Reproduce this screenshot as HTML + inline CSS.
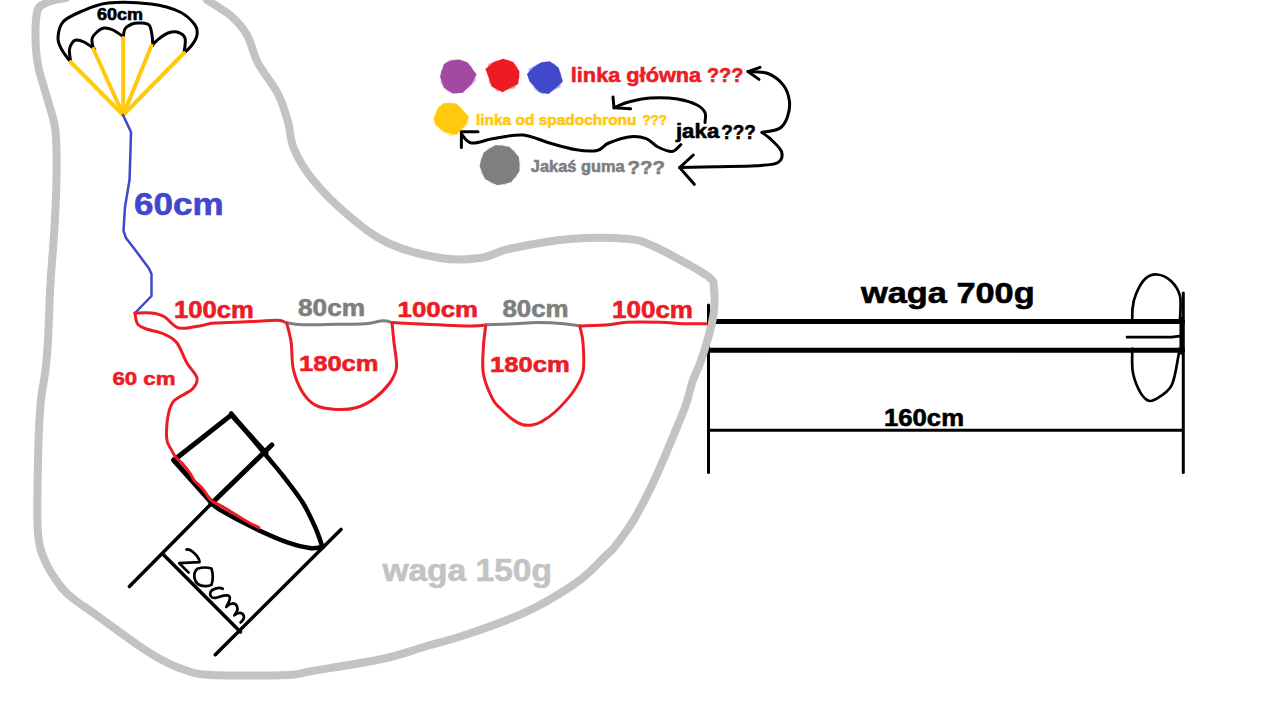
<!DOCTYPE html>
<html><head><meta charset="utf-8"><style>
html,body{margin:0;padding:0;background:#fff;width:1267px;height:714px;overflow:hidden}
svg{display:block}
text{font-family:"Liberation Sans",sans-serif;font-weight:bold}
</style></head><body>
<svg width="1267" height="714" viewBox="0 0 1267 714">
<rect width="1267" height="714" fill="#fff"/>
<path d="M70.7,62.0 C69.2,60.0 64.1,54.0 62.0,50.0 C59.9,46.0 57.8,42.7 58.0,38.0 C58.2,33.3 59.3,26.3 63.0,22.0 C66.7,17.7 72.5,15.2 80.0,12.0 C87.5,8.8 96.2,4.3 108.0,3.0 C119.8,1.7 139.0,2.5 151.0,4.0 C163.0,5.5 172.7,8.5 180.0,12.0 C187.3,15.5 192.2,21.2 195.0,25.0 C197.8,28.8 197.5,31.7 197.0,35.0 C196.5,38.3 194.2,42.0 192.0,45.0 C189.8,48.0 185.3,51.7 184.0,53.0" stroke="#000000" stroke-width="3" fill="none" stroke-linecap="round" stroke-linejoin="round" />
<path d="M70.7,62.0 C70.5,60.0 69.2,53.2 69.4,50.0 C69.6,46.8 70.9,44.7 72.0,43.0 C73.1,41.3 74.0,40.2 76.0,40.0 C78.0,39.8 80.9,40.5 84.0,42.0 C87.1,43.5 92.9,47.8 94.7,49.0" stroke="#000000" stroke-width="3" fill="none" stroke-linecap="round" stroke-linejoin="round" />
<path d="M93.4,49.0 C93.2,47.3 91.4,41.8 92.0,39.0 C92.6,36.2 95.0,33.8 97.0,32.0 C99.0,30.2 101.3,28.3 104.0,28.0 C106.7,27.7 109.7,28.5 113.0,30.0 C116.3,31.5 121.9,35.8 123.7,37.0" stroke="#000000" stroke-width="3" fill="none" stroke-linecap="round" stroke-linejoin="round" />
<path d="M123.2,38.0 C123.5,36.5 123.5,31.3 125.0,29.0 C126.5,26.7 129.5,25.0 132.0,24.0 C134.5,23.0 137.2,22.8 140.0,23.0 C142.8,23.2 147.0,23.0 149.0,25.0 C151.0,27.0 151.4,31.6 152.0,35.0 C152.6,38.4 152.7,43.8 152.8,45.5" stroke="#000000" stroke-width="3" fill="none" stroke-linecap="round" stroke-linejoin="round" />
<path d="M151.5,45.5 C152.9,44.2 157.2,40.1 160.0,38.0 C162.8,35.9 165.2,34.0 168.0,33.0 C170.8,32.0 174.2,31.2 177.0,32.0 C179.8,32.8 183.8,34.5 185.0,38.0 C186.2,41.5 184.2,50.5 184.0,53.0" stroke="#000000" stroke-width="3" fill="none" stroke-linecap="round" stroke-linejoin="round" />
<path d="M123.2,115.0 L70.7,62.0" stroke="#ffc90e" stroke-width="4" fill="none" stroke-linecap="round" stroke-linejoin="round" stroke-linecap="butt"/>
<path d="M123.2,115.0 L93.4,49.0" stroke="#ffc90e" stroke-width="4" fill="none" stroke-linecap="round" stroke-linejoin="round" stroke-linecap="butt"/>
<path d="M123.2,115.0 L123.2,37.9" stroke="#ffc90e" stroke-width="4" fill="none" stroke-linecap="round" stroke-linejoin="round" stroke-linecap="butt"/>
<path d="M123.2,115.0 L151.5,45.5" stroke="#ffc90e" stroke-width="4" fill="none" stroke-linecap="round" stroke-linejoin="round" stroke-linecap="butt"/>
<path d="M123.2,115.0 L184.0,53.0" stroke="#ffc90e" stroke-width="4" fill="none" stroke-linecap="round" stroke-linejoin="round" stroke-linecap="butt"/>
<path d="M123.0,115.0 L131.0,132.0 L130.5,150.0 L129.5,180.0 L125.0,207.0 L123.5,231.0 L126.0,238.0 L136.0,251.0 L149.0,268.6 L151.5,274.0 L151.5,296.0 L135.0,313.0" stroke="#3f48cc" stroke-width="2.5" fill="none" stroke-linecap="round" stroke-linejoin="round" />
<path d="M135.0,313.0 C137.8,313.0 146.7,312.4 151.5,313.0 C156.3,313.6 159.4,314.0 164.0,316.5 C168.6,319.0 172.7,326.5 179.0,328.0 C185.3,329.5 196.1,326.2 202.0,325.4 C207.9,324.6 206.2,323.6 214.6,323.0 C223.0,322.4 242.0,322.1 252.5,321.6 C263.0,321.2 272.3,320.1 277.8,320.3 C283.3,320.5 284.3,322.2 285.6,322.6" stroke="#ed1c24" stroke-width="3" fill="none" stroke-linecap="round" stroke-linejoin="round" />
<path d="M285.6,322.6 C288.4,323.0 294.0,324.5 302.4,324.8 C310.8,325.1 325.6,324.5 336.0,324.3 C346.4,324.1 357.2,324.3 365.0,323.7 C372.8,323.1 378.5,321.0 383.0,320.8 C387.5,320.6 390.5,322.3 392.0,322.6" stroke="#7f7f7f" stroke-width="3" fill="none" stroke-linecap="round" stroke-linejoin="round" />
<path d="M392.0,322.5 C395.7,322.7 401.4,323.1 414.4,323.7 C427.4,324.3 458.1,325.8 470.0,326.0 C481.9,326.2 483.1,325.2 485.7,325.0" stroke="#ed1c24" stroke-width="3" fill="none" stroke-linecap="round" stroke-linejoin="round" />
<path d="M485.7,324.8 C490.5,324.6 506.2,324.1 514.8,323.7 C523.4,323.3 529.0,322.6 537.2,322.6 C545.4,322.6 556.9,323.1 564.0,323.7 C571.1,324.3 577.2,325.6 579.8,326.0" stroke="#7f7f7f" stroke-width="3" fill="none" stroke-linecap="round" stroke-linejoin="round" />
<path d="M579.8,326.0 C584.6,325.8 601.1,325.4 608.9,324.8 C616.7,324.2 618.2,322.7 626.8,322.3 C635.4,321.9 651.1,322.1 660.4,322.3 C669.7,322.5 675.2,323.5 682.8,323.7 C690.4,323.9 702.1,323.7 706.0,323.7" stroke="#ed1c24" stroke-width="3" fill="none" stroke-linecap="round" stroke-linejoin="round" />
<path d="M286.7,323.0 C287.4,326.3 290.1,334.9 291.2,342.7 C292.3,350.5 291.5,361.4 293.4,369.6 C295.3,377.8 298.7,386.0 302.4,392.0 C306.1,398.0 310.2,402.5 315.8,405.4 C321.4,408.3 329.3,409.0 336.0,409.4 C342.7,409.8 349.7,409.5 356.0,407.7 C362.3,405.9 368.4,402.8 374.0,398.7 C379.6,394.6 385.9,388.2 389.7,383.0 C393.4,377.8 395.8,374.0 396.5,367.3 C397.2,360.6 394.8,350.1 394.0,342.7 C393.2,335.2 392.3,326.0 392.0,322.6" stroke="#ed1c24" stroke-width="3" fill="none" stroke-linecap="round" stroke-linejoin="round" />
<path d="M485.7,326.0 C485.3,329.5 483.8,339.0 483.4,347.0 C483.0,355.0 481.9,365.4 483.4,374.0 C484.9,382.6 489.6,393.0 492.4,398.7 C495.2,404.4 496.7,404.6 500.0,408.0 C503.3,411.4 508.3,416.2 512.0,419.0 C515.7,421.8 518.7,423.5 522.0,424.5 C525.3,425.5 528.8,425.4 532.0,425.0 C535.2,424.6 537.2,424.2 541.0,422.0 C544.8,419.8 549.7,417.0 555.0,412.0 C560.3,407.0 568.3,398.7 573.0,392.0 C577.7,385.3 581.3,380.0 583.0,371.8 C584.7,363.6 583.5,350.3 583.0,342.7 C582.5,335.1 580.3,328.8 579.8,326.0" stroke="#ed1c24" stroke-width="3" fill="none" stroke-linecap="round" stroke-linejoin="round" />
<path d="M175.7,458.8 L231.4,414.9 L265.9,453.0" stroke="#000000" stroke-width="5" fill="none" stroke-linecap="round" stroke-linejoin="round" />
<path d="M173.5,460.0 L212.6,503.8" stroke="#000000" stroke-width="5" fill="none" stroke-linecap="round" stroke-linejoin="round" />
<path d="M231.2,413.5 C236.8,420.2 256.0,443.2 264.8,453.8 C273.6,464.4 277.6,468.8 284.0,477.0 C290.4,485.2 297.8,494.5 303.0,503.0 C308.2,511.5 312.2,520.7 315.5,528.0 C318.8,535.3 321.3,543.8 322.5,547.0" stroke="#000000" stroke-width="4.5" fill="none" stroke-linecap="round" stroke-linejoin="round" />
<path d="M212.6,503.8 C213.8,504.8 213.2,505.9 220.0,509.9 C226.8,513.9 242.4,522.4 253.6,527.8 C264.8,533.2 277.9,539.0 287.3,542.4 C296.7,545.8 303.8,547.2 309.7,548.0 C315.6,548.8 320.8,547.1 323.0,546.9" stroke="#000000" stroke-width="4.5" fill="none" stroke-linecap="round" stroke-linejoin="round" />
<path d="M271.8,445.0 L211.0,504.0" stroke="#000000" stroke-width="5" fill="none" stroke-linecap="round" stroke-linejoin="round" />
<path d="M211.0,504.0 L129.4,586.5" stroke="#000000" stroke-width="3.5" fill="none" stroke-linecap="round" stroke-linejoin="round" />
<path d="M215.3,654.7 L341.0,529.4" stroke="#000000" stroke-width="3.5" fill="none" stroke-linecap="round" stroke-linejoin="round" />
<path d="M162.8,554.0 L240.5,632.0" stroke="#000000" stroke-width="3.5" fill="none" stroke-linecap="round" stroke-linejoin="round" />
<path d="M135.0,313.0 C135.4,314.8 135.7,321.3 137.6,324.0 C139.5,326.7 142.1,327.3 146.5,329.0 C150.9,330.7 158.9,331.7 164.0,334.0 C169.1,336.3 173.0,337.9 176.8,342.7 C180.6,347.5 183.5,357.1 186.9,363.0 C190.3,368.9 196.2,373.6 197.0,378.0 C197.8,382.4 195.8,385.6 192.0,389.4 C188.2,393.2 178.0,396.4 174.0,400.8 C170.0,405.2 169.2,409.7 168.0,416.0 C166.8,422.3 166.3,433.3 166.7,438.7 C167.1,444.1 169.1,445.4 170.6,448.4 C172.1,451.4 173.4,454.1 175.5,456.8 C177.6,459.5 180.8,461.7 183.2,464.5 C185.6,467.3 188.3,470.9 190.2,473.6 C192.1,476.3 192.3,478.0 194.4,480.6 C196.5,483.2 200.0,485.7 202.8,489.0 C205.6,492.3 208.2,497.5 211.2,500.3 C214.2,503.1 217.0,503.6 221.0,505.9 C225.0,508.2 230.3,511.5 235.0,514.3 C239.7,517.1 245.0,520.5 249.0,522.7 C253.0,524.9 257.2,526.8 258.9,527.6" stroke="#ed1c24" stroke-width="3" fill="none" stroke-linecap="round" stroke-linejoin="round" />
<path d="M1180.0,320.0 C1180.0,316.0 1181.5,302.5 1180.0,296.0 C1178.5,289.5 1174.8,284.6 1171.0,281.0 C1167.2,277.4 1161.3,274.8 1157.0,274.5 C1152.7,274.2 1148.5,275.8 1145.0,279.0 C1141.5,282.2 1138.1,289.0 1136.0,294.0 C1133.9,299.0 1133.1,301.3 1132.5,309.0 C1131.9,316.7 1132.5,329.9 1132.5,340.0 C1132.5,350.1 1131.6,361.7 1132.5,369.7 C1133.4,377.7 1135.6,382.9 1138.0,388.0 C1140.4,393.1 1144.0,398.2 1147.0,400.0 C1150.0,401.8 1151.9,401.4 1156.0,399.0 C1160.1,396.6 1167.9,392.6 1171.6,385.4 C1175.3,378.2 1177.0,362.7 1178.4,356.0 C1179.8,349.3 1179.7,346.8 1180.0,345.0" stroke="#000000" stroke-width="2.7" fill="none" stroke-linecap="round" stroke-linejoin="round" />
<rect x="1120" y="323.9" width="60" height="23.6" fill="#fff"/>
<path d="M714.0,321.4 L1182.5,321.4" stroke="#000000" stroke-width="5" fill="none" stroke-linecap="round" stroke-linejoin="round" stroke-linecap="butt"/>
<path d="M708.5,350.3 L1182.5,350.3" stroke="#000000" stroke-width="5" fill="none" stroke-linecap="round" stroke-linejoin="round" stroke-linecap="butt"/>
<path d="M708.5,305.0 L708.5,472.5" stroke="#000000" stroke-width="3" fill="none" stroke-linecap="round" stroke-linejoin="round" stroke-linecap="butt"/>
<path d="M1183.3,293.1 L1183.3,472.6" stroke="#000000" stroke-width="3" fill="none" stroke-linecap="round" stroke-linejoin="round" stroke-linecap="butt"/>
<path d="M708.5,430.2 L1182.5,430.2" stroke="#000000" stroke-width="3" fill="none" stroke-linecap="round" stroke-linejoin="round" stroke-linecap="butt"/>
<path d="M1127.0,337.2 L1171.6,337.2 L1179.5,336.1" stroke="#000000" stroke-width="2.7" fill="none" stroke-linecap="round" stroke-linejoin="round" />
<path d="M1181.7,319.0 L1181.7,352.5" stroke="#000000" stroke-width="4.5" fill="none" stroke-linecap="round" stroke-linejoin="round" stroke-linecap="butt"/>
<filter id="soft" x="-20%" y="-20%" width="140%" height="140%"><feGaussianBlur stdDeviation="0.7"/></filter>
<polygon filter="url(#soft)" fill="#a349a4" opacity="0.45" transform="rotate(18 456.9 75.6)" points="443.9,63.9 450.2,60.7 459,59.5 467.8,62.6 476.6,74.6 471.6,84 462.8,92.8 452.7,93.5 443.9,87.8 440.1,76.5"/>
<polygon filter="url(#soft)" fill="#a349a4" points="443.9,63.9 450.2,60.7 459,59.5 467.8,62.6 476.6,74.6 471.6,84 462.8,92.8 452.7,93.5 443.9,87.8 440.1,76.5"/>
<polygon filter="url(#soft)" fill="#ed1c24" opacity="0.45" transform="rotate(18 502.6 75.3)" points="485.4,68.9 493,62.6 503.1,58.8 513.2,62 519.5,71.4 518.2,84 510.6,87.8 502.5,92.2 491.7,86.5 489.2,79"/>
<polygon filter="url(#soft)" fill="#ed1c24" points="485.4,68.9 493,62.6 503.1,58.8 513.2,62 519.5,71.4 518.2,84 510.6,87.8 502.5,92.2 491.7,86.5 489.2,79"/>
<polygon filter="url(#soft)" fill="#3f48cc" opacity="0.45" transform="rotate(18 544.6 77.0)" points="527,73.9 533.3,67.6 540.9,62.6 549.7,61.3 558.5,67.6 562.9,81.5 556,87.8 548.5,94.1 539.6,92.2 529.5,81.5"/>
<polygon filter="url(#soft)" fill="#3f48cc" points="527,73.9 533.3,67.6 540.9,62.6 549.7,61.3 558.5,67.6 562.9,81.5 556,87.8 548.5,94.1 539.6,92.2 529.5,81.5"/>
<polygon filter="url(#soft)" fill="#ffc90e" opacity="0.45" transform="rotate(18 449.1 118.5)" points="433.8,119.3 437.6,108 443.9,102.9 456.5,103.6 469.1,116.8 465.9,124.3 456.5,135 443.9,131.9 435,124.3"/>
<polygon filter="url(#soft)" fill="#ffc90e" points="433.8,119.3 437.6,108 443.9,102.9 456.5,103.6 469.1,116.8 465.9,124.3 456.5,135 443.9,131.9 435,124.3"/>
<polygon filter="url(#soft)" fill="#7f7f7f" opacity="0.45" transform="rotate(18 500.0 165.0)" points="519.5843980270749,171.05816423655747 511.1084063717658,182.22943144389023 497.4346679189223,185.33885619482555 484.96127685730545,178.931504090994 479.52467149094576,166.005446391565 483.6686998919014,152.60892915123074 495.45432511561967,145.01033167244856 509.36692213728844,146.76512216454478 518.8966321891762,157.0522146539437"/>
<polygon filter="url(#soft)" fill="#7f7f7f" points="519.5843980270749,171.05816423655747 511.1084063717658,182.22943144389023 497.4346679189223,185.33885619482555 484.96127685730545,178.931504090994 479.52467149094576,166.005446391565 483.6686998919014,152.60892915123074 495.45432511561967,145.01033167244856 509.36692213728844,146.76512216454478 518.8966321891762,157.0522146539437"/>
<path d="M461.4,134.0 C463.1,135.5 466.1,142.2 471.5,143.0 C476.9,143.8 485.4,139.8 494.0,138.5 C502.6,137.2 513.7,134.2 523.0,135.0 C532.3,135.8 540.9,140.6 549.6,143.0 C558.3,145.4 567.1,148.2 575.0,149.5 C582.9,150.8 591.4,151.6 597.0,150.5 C602.6,149.4 603.2,145.3 608.8,143.0 C614.4,140.7 624.2,137.4 630.5,136.7 C636.8,136.0 641.7,137.0 646.3,138.7 C650.9,140.4 653.7,144.9 658.0,147.0 C662.3,149.1 668.2,151.9 672.0,151.5 C675.8,151.1 679.3,145.8 680.8,144.6" stroke="#000000" stroke-width="3" fill="none" stroke-linecap="round" stroke-linejoin="round" />
<path d="M478.0,131.8 L461.4,131.8 L461.4,147.5" stroke="#000000" stroke-width="3" fill="none" stroke-linecap="round" stroke-linejoin="round" />
<path d="M614.0,107.8 C616.4,106.8 622.6,103.6 628.6,102.0 C634.6,100.4 641.8,98.5 650.0,98.0 C658.2,97.5 669.8,97.8 677.6,99.0 C685.4,100.2 692.4,102.7 697.0,105.0 C701.6,107.3 703.7,109.8 705.0,112.7 C706.3,115.6 705.0,120.9 705.0,122.5" stroke="#000000" stroke-width="3" fill="none" stroke-linecap="round" stroke-linejoin="round" />
<path d="M613.0,97.0 L614.0,107.8 L630.6,108.8" stroke="#000000" stroke-width="3" fill="none" stroke-linecap="round" stroke-linejoin="round" />
<path d="M748.0,71.6 C751.3,71.9 762.1,71.2 768.0,73.5 C773.9,75.8 779.9,80.7 783.5,85.3 C787.1,89.9 788.7,95.8 789.4,101.0 C790.1,106.2 789.1,112.1 787.5,116.7 C785.9,121.3 783.9,125.8 779.6,128.4 C775.4,131.0 764.9,131.7 762.0,132.4" stroke="#000000" stroke-width="3" fill="none" stroke-linecap="round" stroke-linejoin="round" />
<path d="M760.0,67.3 L748.0,71.6 L759.0,79.4" stroke="#000000" stroke-width="3" fill="none" stroke-linecap="round" stroke-linejoin="round" />
<path d="M762.0,132.4 C763.6,133.7 768.5,136.9 771.8,140.2 C775.1,143.5 780.6,148.2 781.6,152.0 C782.6,155.8 781.9,160.4 777.6,162.7 C773.3,165.0 766.1,165.0 756.0,165.7 C745.9,166.4 729.6,166.4 716.9,166.7 C704.2,167.0 685.8,167.4 679.6,167.6" stroke="#000000" stroke-width="3" fill="none" stroke-linecap="round" stroke-linejoin="round" />
<path d="M693.3,155.0 L679.6,167.6 L694.3,184.3" stroke="#000000" stroke-width="3" fill="none" stroke-linecap="round" stroke-linejoin="round" />
<path d="M66.0,-2.0 C64.2,-1.7 58.5,-0.9 55.0,0.0 C51.5,0.9 47.6,2.2 45.0,3.4 C42.4,4.6 40.7,5.4 39.3,7.0 C37.9,8.6 37.4,9.3 36.8,13.0 C36.2,16.7 35.6,23.2 35.5,29.4 C35.4,35.6 35.4,43.2 36.0,50.0 C36.6,56.8 37.0,61.5 39.0,70.0 C41.0,78.5 45.2,90.8 48.0,101.0 C50.8,111.2 54.1,118.3 55.5,131.0 C56.9,143.7 56.7,161.0 56.5,177.0 C56.3,193.0 55.5,209.3 54.5,227.0 C53.5,244.7 51.6,264.2 50.5,283.0 C49.4,301.8 48.8,325.5 48.0,340.0 C47.2,354.5 46.8,359.1 45.5,370.0 C44.2,380.9 41.7,389.7 40.4,405.7 C39.1,421.7 38.3,444.9 37.9,466.0 C37.5,487.1 36.6,516.0 37.9,532.0 C39.2,548.0 41.5,552.7 45.5,562.0 C49.5,571.3 57.1,581.7 62.0,588.0 C66.9,594.3 70.0,596.0 75.0,600.0 C80.0,604.0 86.2,607.8 92.0,612.0 C97.8,616.2 102.8,619.8 110.0,625.0 C117.2,630.2 126.7,637.3 135.0,643.0 C143.3,648.7 151.7,654.5 160.0,659.0 C168.3,663.5 176.5,667.3 185.0,670.0 C193.5,672.7 194.0,674.2 211.0,675.0 C228.0,675.8 270.2,675.7 287.0,675.0 C303.8,674.3 296.2,673.7 312.0,671.0 C327.8,668.3 363.3,663.0 382.0,659.0 C400.7,655.0 410.2,651.0 424.0,647.0 C437.8,643.0 451.2,639.5 465.0,635.0 C478.8,630.5 494.5,625.0 507.0,620.0 C519.5,615.0 527.8,611.7 540.0,605.0 C552.2,598.3 569.2,588.1 580.0,580.0 C590.8,571.9 599.2,562.1 605.0,556.5 C610.8,550.9 610.3,552.3 615.0,546.4 C619.7,540.5 627.1,530.9 633.0,521.2 C638.9,511.5 645.4,498.5 650.4,488.4 C655.4,478.3 658.8,470.4 663.0,460.7 C667.2,451.0 671.8,439.6 675.6,430.4 C679.4,421.1 682.8,413.6 685.7,405.2 C688.6,396.8 690.5,387.2 693.0,380.0 C695.5,372.8 697.7,370.2 700.5,362.0 C703.3,353.8 707.8,339.5 710.0,331.0 C712.2,322.5 713.3,318.0 714.0,311.0 C714.7,304.0 714.7,294.5 714.0,289.0 C713.3,283.5 715.3,282.7 710.0,278.0 C704.7,273.3 691.5,266.3 682.0,261.0 C672.5,255.7 661.8,249.7 653.0,246.0 C644.2,242.3 642.8,240.2 629.0,239.0 C615.2,237.8 589.7,237.4 570.0,239.0 C550.3,240.6 526.0,245.3 511.0,248.5 C496.0,251.7 491.8,256.4 480.0,258.0 C468.2,259.6 455.3,260.5 440.0,258.0 C424.7,255.5 403.2,250.0 388.0,243.0 C372.8,236.0 361.5,226.5 349.0,216.0 C336.5,205.5 322.2,191.2 313.0,180.0 C303.8,168.8 298.2,158.7 294.0,149.0 C289.8,139.3 290.7,131.2 288.0,122.0 C285.3,112.8 283.0,103.8 278.0,94.0 C273.0,84.2 263.2,72.8 258.0,63.0 C252.8,53.2 251.5,42.8 247.0,35.0 C242.5,27.2 237.7,21.8 231.0,16.0 C224.3,10.2 211.0,2.7 207.0,0.0" stroke="#c3c3c3" stroke-width="8" fill="none" stroke-linecap="round" stroke-linejoin="round" />
<text x="97" y="20" font-size="16.5" fill="#000000" stroke="#000000" stroke-width="0.6" textLength="46" lengthAdjust="spacingAndGlyphs" >60cm</text>
<text x="134" y="214.6" font-size="31.5" fill="#3f48cc" stroke="#3f48cc" stroke-width="0.6" textLength="89.5" lengthAdjust="spacingAndGlyphs" >60cm</text>
<text x="174" y="318" font-size="23" fill="#ed1c24" stroke="#ed1c24" stroke-width="0.6" textLength="79.8" lengthAdjust="spacingAndGlyphs" >100cm</text>
<text x="298" y="315.6" font-size="23" fill="#7f7f7f" stroke="#7f7f7f" stroke-width="0.6" textLength="67" lengthAdjust="spacingAndGlyphs" >80cm</text>
<text x="397.6" y="317.2" font-size="22.5" fill="#ed1c24" stroke="#ed1c24" stroke-width="0.6" textLength="80.4" lengthAdjust="spacingAndGlyphs" >100cm</text>
<text x="502.5" y="317.4" font-size="23" fill="#7f7f7f" stroke="#7f7f7f" stroke-width="0.6" textLength="66.1" lengthAdjust="spacingAndGlyphs" >80cm</text>
<text x="612" y="317.6" font-size="23" fill="#ed1c24" stroke="#ed1c24" stroke-width="0.6" textLength="81" lengthAdjust="spacingAndGlyphs" >100cm</text>
<text x="299" y="370.7" font-size="22" fill="#ed1c24" stroke="#ed1c24" stroke-width="0.6" textLength="79.5" lengthAdjust="spacingAndGlyphs" >180cm</text>
<text x="490" y="372" font-size="22" fill="#ed1c24" stroke="#ed1c24" stroke-width="0.6" textLength="79.7" lengthAdjust="spacingAndGlyphs" >180cm</text>
<text x="112.4" y="385" font-size="19" fill="#ed1c24" stroke="#ed1c24" stroke-width="0.6" textLength="63.1" lengthAdjust="spacingAndGlyphs" >60 cm</text>
<text x="861" y="303" font-size="30" fill="#000000" stroke="#000000" stroke-width="0.6" textLength="173.7" lengthAdjust="spacingAndGlyphs" >waga 700g</text>
<text x="884" y="426.1" font-size="24.4" fill="#000000" stroke="#000000" stroke-width="0.6" textLength="80" lengthAdjust="spacingAndGlyphs" >160cm</text>
<text x="382.4" y="581.2" font-size="31" fill="#c3c3c3" stroke="#c3c3c3" stroke-width="0.6" textLength="169.6" lengthAdjust="spacingAndGlyphs" >waga 150g</text>
<text x="570.8" y="82.2" font-size="21" fill="#ed1c24" stroke="#ed1c24" stroke-width="0.6" textLength="130.4" lengthAdjust="spacingAndGlyphs" >linka główna</text>
<text x="707" y="82.2" font-size="21" fill="#ed1c24" stroke="#ed1c24" stroke-width="0.6" textLength="36.3" lengthAdjust="spacingAndGlyphs" >???</text>
<text x="476" y="124.7" font-size="15.3" fill="#ffc90e" stroke="#ffc90e" stroke-width="0.6" textLength="160.5" lengthAdjust="spacingAndGlyphs" >linka od spadochronu</text>
<text x="642.4" y="124.7" font-size="15.3" fill="#ffc90e" stroke="#ffc90e" stroke-width="0.6" textLength="24.5" lengthAdjust="spacingAndGlyphs" >???</text>
<text x="675.9" y="138.3" font-size="21" fill="#000000" stroke="#000000" stroke-width="0.6" textLength="43.4" lengthAdjust="spacingAndGlyphs" >jaka</text>
<text x="721.3" y="138.5" font-size="21" fill="#000000" stroke="#000000" stroke-width="0.6" textLength="34.5" lengthAdjust="spacingAndGlyphs" >???</text>
<text x="530.8" y="172.2" font-size="16.5" fill="#7f7f7f" stroke="#7f7f7f" stroke-width="0.6" textLength="93.8" lengthAdjust="spacingAndGlyphs" >Jakaś guma</text>
<text x="627.5" y="174" font-size="19" fill="#7f7f7f" stroke="#7f7f7f" stroke-width="0.6" textLength="37.5" lengthAdjust="spacingAndGlyphs" >???</text>
<path d="M 186.55,549.55 C 188.66,548.85 190.76,549.90 194.61,553.40 C 197.41,556.20 199.51,559.01 199.51,562.16 L 179.20,563.21 L 188.66,572.66" stroke="#000000" stroke-width="2.7" fill="none" stroke-linecap="round" stroke-linejoin="round" />
<path d="M 211.41,568.46 C 212.82,573.01 213.17,580.01 211.41,584.92 C 207.91,587.02 201.61,586.32 198.11,584.22 C 193.91,580.71 192.51,573.01 197.41,568.81 C 201.61,567.41 207.91,567.41 211.41,568.46 Z" stroke="#000000" stroke-width="2.7" fill="none" stroke-linecap="round" stroke-linejoin="round" />
<path d="M 222.76,588.75 C 219.61,587.00 212.61,588.40 210.50,591.90 C 209.45,595.41 211.20,598.56 215.41,597.86 C 219.61,597.16 222.41,595.06 227.31,595.41 C 231.51,595.76 230.11,600.31 226.26,606.96 C 229.41,603.11 235.01,601.71 237.11,606.61 C 238.17,609.41 236.41,612.91 234.31,615.36 C 237.82,612.21 242.02,611.51 243.77,615.71 C 244.47,618.52 242.72,620.62 240.62,622.37" stroke="#000000" stroke-width="2.7" fill="none" stroke-linecap="round" stroke-linejoin="round" />
</svg>
</body></html>
